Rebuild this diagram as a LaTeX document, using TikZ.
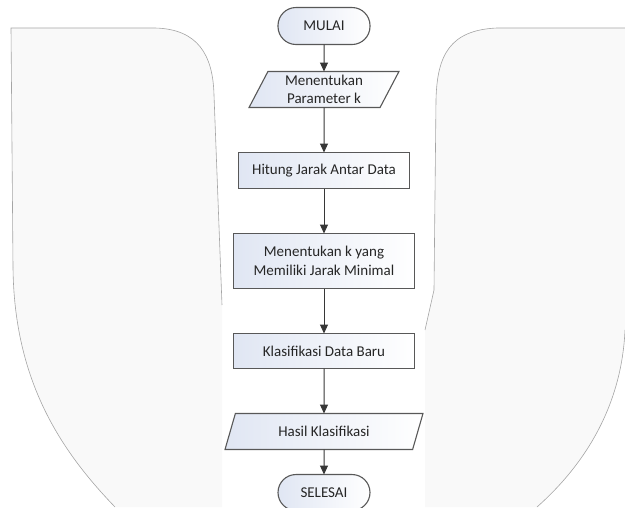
\documentclass[tikz,border=0pt]{standalone}
\usepackage{fontspec}
\setmainfont{Carlito}
\usetikzlibrary{positioning,shapes.geometric,arrows.meta}
\definecolor{garis}{RGB}{88,88,88}
\definecolor{panah}{RGB}{55,55,55}
\definecolor{isi}{RGB}{224,230,243}
\definecolor{latar}{RGB}{249,249,249}
\definecolor{tepi}{RGB}{165,165,165}
\tikzset{
    flowchart/.style={
        x=1pt, y=-1pt,
        node distance=45pt,
        every node/.style={font=\fontsize{15}{18.5}\selectfont, text=black!85,
                           outer sep=0pt, inner ysep=1pt},
        % Stile per terminale (ovale)
        terminal/.style={draw=garis, line width=1.1pt, rectangle,
                         rounded corners=18pt, align=center,
                         minimum width=92pt, minimum height=37pt,
                         left color=isi, right color=white},
        % Stile per proses (rettangolare)
        proses/.style={draw=garis, line width=1.1pt, rectangle, align=center,
                       minimum width=181pt, minimum height=36pt,
                       left color=isi, right color=white},
        % Stile per input/output (jajar genjang)
        io/.style={draw=garis, line width=1.1pt, trapezium,
                   trapezium left angle=66, trapezium right angle=114,
                   trapezium stretches=true, align=center,
                   minimum height=36pt, inner xsep=2pt,
                   left color=isi, right color=white},
        % Stile per panah
        alur/.style={draw=panah, line width=1pt,
                     -{Triangle[length=9pt,width=8pt]}},
        % Stile per panel latar
        panel/.style={fill=latar, draw=none},
        tepipanel/.style={draw=tepi, line width=0.6pt}
    }
}

\begin{document}
\begin{tikzpicture}[flowchart]
    \useasboundingbox (0,0) rectangle (625,507);
    \clip (0,0) rectangle (625,507);
    % panel latar kiri dan kanan
    \fill[panel] (11,28) -- (155,28) .. controls (198,29) and (213,55) .. (214,95)
        -- (222,305) -- (222,507) -- (115,507)
        .. controls (60,450) and (14,380) .. (13,267) -- cycle;
    \draw[tepipanel] (13,267) -- (11,28) -- (155,28)
        .. controls (198,29) and (213,55) .. (214,95) -- (222,305);
    \draw[tepipanel] (13,267) .. controls (14,380) and (60,450) .. (115,507);
    \fill[panel] (497,28) -- (625,28) -- (625,330)
        .. controls (622,400) and (590,460) .. (537,507)
        -- (425,507) -- (425,330) -- (434,290) -- (436,100)
        .. controls (437,55) and (450,30) .. (497,28) -- cycle;
    \draw[tepipanel] (425,330) -- (434,290) -- (436,100)
        .. controls (437,55) and (450,30) .. (497,28) -- (625,28);
    \draw[tepipanel] (625,330) .. controls (622,400) and (590,460) .. (537,507);

    % diagram alir
    \node[terminal] (mulai) at (324,26) {MULAI};
    \node[io, minimum width=150pt, below=27pt of mulai] (parameter)
        {Menentukan\\Parameter k};
    \node[proses, minimum width=171pt, below=of parameter] (hitung)
        {Hitung Jarak Antar Data};
    \node[proses, minimum height=55pt, below=of hitung] (minimal)
        {Menentukan k yang\\Memiliki Jarak Minimal};
    \node[proses, minimum height=35pt, below=of minimal] (klasifikasi)
        {Klasifikasi Data Baru};
    \node[io, minimum width=198pt, below=of klasifikasi] (hasil)
        {Hasil Klasifikasi};
    \node[terminal, minimum height=36pt, below=25pt of hasil] (selesai) {SELESAI};

    \draw[alur] (mulai) -- (parameter);
    \draw[alur] (parameter) -- (hitung);
    \draw[alur] (hitung) -- (minimal);
    \draw[alur] (minimal) -- (klasifikasi);
    \draw[alur] (klasifikasi) -- (hasil);
    \draw[alur] (hasil) -- (selesai);
\end{tikzpicture}
\end{document}
